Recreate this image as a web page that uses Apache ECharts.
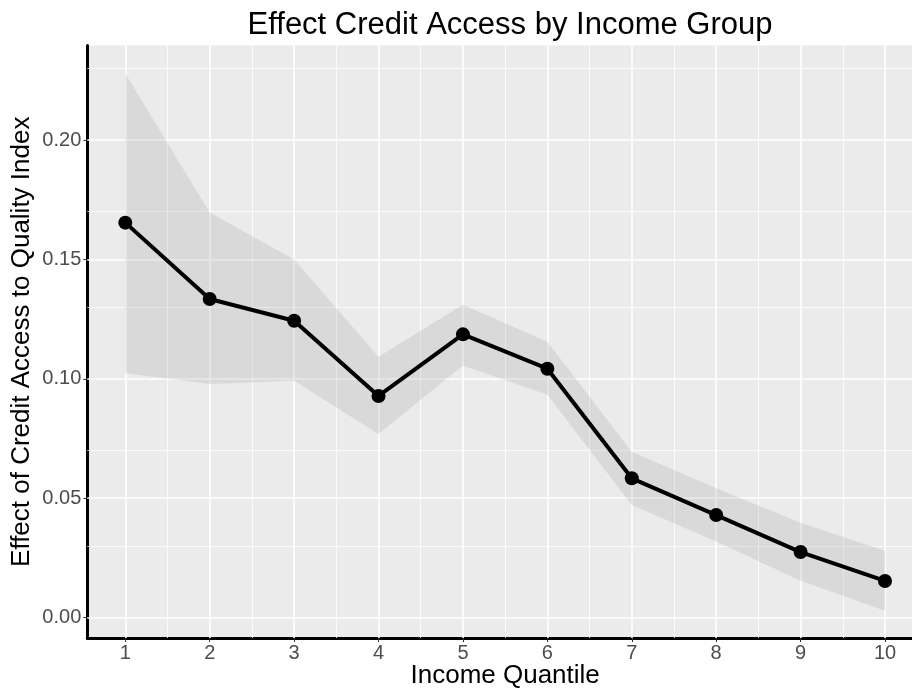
<!DOCTYPE html>
<html>
<head>
<meta charset="utf-8">
<title>Effect Credit Access by Income Group</title>
<script src="https://cdn.jsdelivr.net/npm/echarts@6/dist/echarts.min.js"></script>
<style>
  html, body { margin: 0; padding: 0; background: #ffffff; }
  #chart { width: 912px; height: 691px; }
</style>
</head>
<body>
<div id="chart"></div>
<script>
// Income quantiles and the estimated effect with its confidence band
const quantiles = [1, 2, 3, 4, 5, 6, 7, 8, 9, 10];
const effect = [0.1654, 0.1334, 0.1243, 0.0928, 0.1186, 0.1042, 0.0583, 0.0429, 0.0274, 0.0153];
const ciLower = [0.1023, 0.0978, 0.0992, 0.0769, 0.1056, 0.0933, 0.0471, 0.0318, 0.0154, 0.0028];
const ciUpper = [0.2279, 0.1696, 0.1500, 0.1092, 0.1310, 0.1155, 0.0694, 0.0541, 0.0397, 0.0280];

// Axis breaks
const xTicks = [1, 2, 3, 4, 5, 6, 7, 8, 9, 10];
const xMinor = [1.5, 2.5, 3.5, 4.5, 5.5, 6.5, 7.5, 8.5, 9.5];
const yTicks = [0, 0.05, 0.10, 0.15, 0.20];
const yMinor = [0.025, 0.075, 0.125, 0.175, 0.225];

const FONT = '"Liberation Sans", Arial, sans-serif';

const chart = echarts.init(document.getElementById('chart'), null, { renderer: 'canvas' });

const gridLines = []
  .concat(yMinor.map(v => ({ yAxis: v, lineStyle: { width: 0.8 } })))
  .concat(xMinor.map(v => ({ xAxis: v, lineStyle: { width: 0.8 } })))
  .concat(yTicks.map(v => ({ yAxis: v, lineStyle: { width: 1.6 } })))
  .concat(xTicks.map(v => ({ xAxis: v, lineStyle: { width: 1.6 } })));

// ribbon rows: [quantile, lower, upper]
const ribbon = quantiles.map((q, i) => [q, ciLower[i], ciUpper[i]]);

chart.setOption({
  animation: false,
  backgroundColor: '#ffffff',
  title: {
    text: 'Effect Credit Access by Income Group',
    left: 505,
    top: 5,
    textAlign: 'center',
    textStyle: { fontFamily: FONT, fontSize: 31, fontWeight: 'normal', color: '#000000' }
  },
  grid: {
    left: 87.3,
    right: -11,
    top: 45.5,
    bottom: 53,
    outerBoundsMode: 'none',
    containLabel: false,
    show: true,
    backgroundColor: '#EBEBEB',
    borderWidth: 0
  },
  xAxis: {
    type: 'value',
    min: 0.55,
    max: 10.45,
    name: 'Income Quantile',
    nameLocation: 'middle',
    nameGap: 25,
    nameMoveOverlap: false,
    nameTextStyle: { fontFamily: FONT, fontSize: 26, color: '#000000' },
    axisLine: { show: true, onZero: false, lineStyle: { color: '#000000', width: 3 } },
    axisTick: { show: true, length: 4, customValues: xTicks, lineStyle: { color: '#333333', width: 1 } },
    axisLabel: {
      customValues: xTicks,
      margin: 5,
      fontFamily: FONT, fontSize: 20, color: '#4D4D4D',
      formatter: v => String(v)
    },
    splitLine: { show: false }
  },
  yAxis: {
    type: 'value',
    min: -0.0086,
    max: 0.2396,
    name: 'Effect of Credit Access to Quality Index',
    nameLocation: 'middle',
    nameGap: 52,
    nameMoveOverlap: false,
    nameTextStyle: { fontFamily: FONT, fontSize: 26, color: '#000000' },
    axisLine: { show: true, onZero: false, lineStyle: { color: '#000000', width: 3 } },
    axisTick: { show: true, length: 4, customValues: yTicks, lineStyle: { color: '#333333', width: 1 } },
    axisLabel: {
      customValues: yTicks,
      margin: 6,
      fontFamily: FONT, fontSize: 20, color: '#4D4D4D',
      formatter: v => v.toFixed(2)
    },
    splitLine: { show: false }
  },
  series: [
    {
      // panel grid lines
      type: 'line',
      data: [],
      z: 1,
      silent: true,
      markLine: {
        z: 1,
        silent: true,
        symbol: 'none',
        label: { show: false },
        lineStyle: { color: '#FFFFFF', type: 'solid' },
        emphasis: { disabled: true },
        data: gridLines
      }
    },
    {
      // confidence ribbon, one polygon through upper then lower bounds
      type: 'custom',
      z: 2,
      silent: true,
      data: ribbon,
      encode: { x: 0, y: [1, 2] },
      renderItem: function (params, api) {
        if (params.dataIndex !== 0) return null;
        const top = ribbon.map(r => api.coord([r[0], r[2]]));
        const bottom = ribbon.slice().reverse().map(r => api.coord([r[0], r[1]]));
        return {
          type: 'polygon',
          shape: { points: top.concat(bottom) },
          style: { fill: 'rgba(153,153,153,0.22)', stroke: null }
        };
      }
    },
    {
      name: 'effect',
      type: 'line',
      z: 3,
      symbol: 'circle',
      symbolSize: 14,
      showSymbol: true,
      itemStyle: { color: '#000000', borderWidth: 0 },
      lineStyle: { color: '#000000', width: 4 },
      data: quantiles.map((q, i) => [q, effect[i]])
    }
  ]
});
</script>
</body>
</html>
